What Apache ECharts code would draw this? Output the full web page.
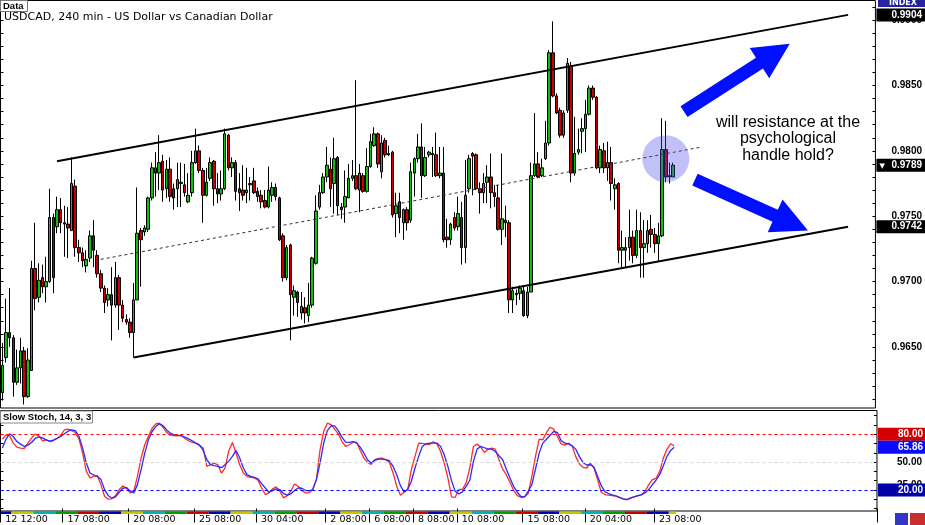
<!DOCTYPE html>
<html><head><meta charset="utf-8">
<script src="https://cdn.jsdelivr.net/npm/echarts@6/dist/echarts.min.js"></script>
<style>html,body{margin:0;padding:0;background:#fff}#c{width:925px;height:525px}</style>
</head><body><div id="c"></div>
<script>
// ---- data ----
const tickIndex = [0,17,35,53,70,89,101,113,125,143,160,179];
const tickLabels = ['12 12:00','17 08:00','20 08:00','25 08:00','30 04:00','2 08:00','6 08:00','8 08:00','10 08:00','15 08:00','20 04:00','23 08:00'];
const priceLabels = [0.965,0.970,0.975,0.980,0.985,0.990];
const stochLabels = [25,50,75];
// first bar of each trading day and the weekday colour of the period-separator strip
const dayStarts = [0,3,9,15,21,27,33,39,45,51,57,63,69,75,81,87,93,99,105,111,117,123,129,135,141,147,153,159,165,171,177,183];
const dayColors = ['#0000b4','#c8c800','#00b4b4','#00a000','#c80000'];
// [open, close, low, high]
const candles = [
[0.9615,0.9636,0.9609,0.9653],[0.9642,0.9661,0.9638,0.9687],[0.9661,0.9657,0.9650,0.9695],[0.9657,0.9623,0.9612,0.9659],
[0.9623,0.9634,0.9621,0.9648],[0.9634,0.9647,0.9622,0.9657],[0.9647,0.9612,0.9606,0.9650],[0.9612,0.9640,0.9611,0.9649],
[0.9632,0.9710,0.9632,0.9716],[0.9710,0.9687,0.9678,0.9745],[0.9688,0.9701,0.9684,0.9714],[0.9703,0.9696,0.9691,0.9713],
[0.9696,0.9700,0.9684,0.9719],[0.9700,0.9749,0.9699,0.9771],[0.9749,0.9703,0.9691,0.9752],[0.9742,0.9755,0.9737,0.9765],
[0.9755,0.9745,0.9737,0.9764],[0.9745,0.9744,0.9719,0.9758],[0.9744,0.9741,0.9718,0.9757],[0.9739,0.9775,0.9739,0.9795],
[0.9773,0.9726,0.9719,0.9778],[0.9726,0.9722,0.9715,0.9732],[0.9722,0.9716,0.9711,0.9726],[0.9712,0.9717,0.9707,0.9724],
[0.9718,0.9735,0.9715,0.9739],[0.9735,0.9724,0.9711,0.9747],[0.9720,0.9706,0.9703,0.9724],[0.9706,0.9695,0.9692,0.9709],
[0.9695,0.9684,0.9676,0.9697],[0.9686,0.9690,0.9681,0.9695],[0.9690,0.9682,0.9655,0.9711],[0.9682,0.9703,0.9680,0.9715],
[0.9703,0.9682,0.9663,0.9705],[0.9682,0.9672,0.9669,0.9686],[0.9671,0.9669,0.9667,0.9675],[0.9669,0.9661,0.9657,0.9672],
[0.9661,0.9686,0.9642,0.9699],[0.9686,0.9737,0.9686,0.9772],[0.9739,0.9732,0.9696,0.9741],[0.9738,0.9741,0.9735,0.9743],
[0.9740,0.9764,0.9738,0.9765],[0.9764,0.9787,0.9762,0.9791],[0.9787,0.9783,0.9765,0.9799],[0.9783,0.9791,0.9770,0.9812],
[0.9792,0.9770,0.9761,0.9797],[0.9771,0.9786,0.9764,0.9793],[0.9786,0.9765,0.9761,0.9795],[0.9771,0.9764,0.9755,0.9775],
[0.9771,0.9778,0.9757,0.9791],[0.9775,0.9776,0.9757,0.9791],[0.9774,0.9768,0.9765,0.9790],[0.9761,0.9766,0.9760,0.9783],
[0.9768,0.9791,0.9765,0.9800],[0.9791,0.9800,0.9790,0.9817],[0.9800,0.9785,0.9783,0.9804],[0.9785,0.9766,0.9745,0.9787],
[0.9766,0.9776,0.9765,0.9787],[0.9779,0.9791,0.9777,0.9795],[0.9792,0.9771,0.9758,0.9793],[0.9771,0.9767,0.9760,0.9783],
[0.9767,0.9771,0.9762,0.9785],[0.9771,0.9813,0.9770,0.9817],[0.9812,0.9787,0.9785,0.9813],[0.9787,0.9791,0.9780,0.9795],
[0.9791,0.9769,0.9762,0.9793],[0.9771,0.9768,0.9754,0.9783],[0.9770,0.9766,0.9762,0.9789],[0.9768,0.9770,0.9760,0.9787],
[0.9774,0.9775,0.9762,0.9780],[0.9777,0.9768,0.9767,0.9787],[0.9769,0.9765,0.9761,0.9772],[0.9766,0.9761,0.9756,0.9770],
[0.9762,0.9757,0.9756,0.9770],[0.9757,0.9770,0.9756,0.9788],[0.9766,0.9772,0.9761,0.9776],[0.9772,0.9765,0.9762,0.9775],
[0.9764,0.9732,0.9731,0.9765],[0.9735,0.9703,0.9700,0.9737],[0.9703,0.9726,0.9701,0.9728],[0.9728,0.9690,0.9655,0.9729],
[0.9688,0.9693,0.9674,0.9697],[0.9692,0.9684,0.9673,0.9693],[0.9676,0.9681,0.9671,0.9692],[0.9680,0.9676,0.9668,0.9688],
[0.9674,0.9682,0.9669,0.9699],[0.9682,0.9718,0.9680,0.9719],[0.9714,0.9754,0.9713,0.9766],[0.9757,0.9768,0.9755,0.9774],
[0.9768,0.9780,0.9767,0.9783],[0.9780,0.9789,0.9776,0.9803],[0.9786,0.9771,0.9757,0.9795],[0.9775,0.9794,0.9752,0.9810],
[0.9795,0.9758,0.9751,0.9796],[0.9757,0.9755,0.9748,0.9760],[0.9757,0.9765,0.9745,0.9785],[0.9764,0.9779,0.9764,0.9790],
[0.9779,0.9781,0.9777,0.9793],[0.9781,0.9771,0.9770,0.9854],[0.9770,0.9783,0.9753,0.9790],[0.9781,0.9769,0.9768,0.9783],
[0.9769,0.9788,0.9768,0.9802],[0.9788,0.9807,0.9787,0.9813],[0.9804,0.9813,0.9803,0.9818],[0.9813,0.9790,0.9787,0.9814],
[0.9784,0.9806,0.9779,0.9812],[0.9808,0.9797,0.9795,0.9810],[0.9797,0.9798,0.9796,0.9804],[0.9799,0.9751,0.9749,0.9800],
[0.9752,0.9758,0.9734,0.9768],[0.9761,0.9749,0.9737,0.9768],[0.9745,0.9755,0.9732,0.9756],[0.9755,0.9745,0.9739,0.9757],
[0.9747,0.9784,0.9745,0.9791],[0.9783,0.9794,0.9765,0.9795],[0.9794,0.9803,0.9791,0.9813],[0.9803,0.9781,0.9764,0.9821],
[0.9781,0.9795,0.9780,0.9803],[0.9797,0.9799,0.9795,0.9800],[0.9798,0.9797,0.9780,0.9803],[0.9797,0.9781,0.9780,0.9814],
[0.9781,0.9783,0.9779,0.9803],[0.9783,0.9732,0.9730,0.9803],[0.9734,0.9732,0.9726,0.9748],[0.9732,0.9744,0.9728,0.9745],
[0.9749,0.9741,0.9739,0.9753],[0.9742,0.9752,0.9739,0.9765],[0.9749,0.9726,0.9713,0.9761],[0.9726,0.9766,0.9714,0.9793],
[0.9771,0.9794,0.9768,0.9797],[0.9798,0.9796,0.9766,0.9799],[0.9797,0.9771,0.9770,0.9798],[0.9771,0.9768,0.9752,0.9776],
[0.9768,0.9775,0.9760,0.9783],[0.9776,0.9780,0.9760,0.9789],[0.9780,0.9768,0.9756,0.9798],[0.9768,0.9765,0.9757,0.9774],
[0.9764,0.9740,0.9739,0.9774],[0.9740,0.9748,0.9728,0.9798],[0.9747,0.9745,0.9734,0.9758],[0.9745,0.9686,0.9676,0.9747],
[0.9686,0.9693,0.9676,0.9696],[0.9690,0.9691,0.9682,0.9694],[0.9691,0.9695,0.9686,0.9697],[0.9693,0.9674,0.9673,0.9696],
[0.9674,0.9692,0.9672,0.9696],[0.9692,0.9781,0.9692,0.9791],[0.9781,0.9790,0.9780,0.9829],[0.9790,0.9780,0.9779,0.9799],
[0.9781,0.9787,0.9780,0.9794],[0.9794,0.9806,0.9793,0.9823],[0.9806,0.9875,0.9804,0.9877],[0.9875,0.9842,0.9841,0.9899],
[0.9842,0.9829,0.9828,0.9844],[0.9831,0.9812,0.9810,0.9833],[0.9812,0.9829,0.9810,0.9831],[0.9831,0.9867,0.9829,0.9871],
[0.9865,0.9783,0.9776,0.9868],[0.9783,0.9798,0.9781,0.9826],[0.9799,0.9801,0.9797,0.9817],[0.9815,0.9817,0.9798,0.9825],
[0.9817,0.9828,0.9799,0.9839],[0.9828,0.9848,0.9827,0.9850],[0.9848,0.9841,0.9839,0.9850],[0.9841,0.9787,0.9786,0.9842],
[0.9787,0.9801,0.9783,0.9804],[0.9800,0.9787,0.9783,0.9806],[0.9787,0.9791,0.9777,0.9807],[0.9791,0.9775,0.9762,0.9803],
[0.9771,0.9774,0.9755,0.9779],[0.9775,0.9724,0.9714,0.9776],[0.9724,0.9726,0.9711,0.9739],[0.9724,0.9726,0.9711,0.9734],
[0.9726,0.9734,0.9716,0.9755],[0.9734,0.9720,0.9714,0.9739],[0.9720,0.9739,0.9718,0.9755],[0.9739,0.9726,0.9703,0.9753],
[0.9726,0.9729,0.9703,0.9747],[0.9729,0.9739,0.9722,0.9747],[0.9740,0.9736,0.9726,0.9751],[0.9736,0.9729,0.9722,0.9741],
[0.9729,0.9735,0.9715,0.9745],[0.9735,0.9801,0.9734,0.9825],[0.9801,0.9780,0.9776,0.9823],[0.9781,0.9780,0.9775,0.9791],
[0.9780,0.9789,0.9780,0.9791]
];
const stochMain = [
74.6,79.3,78.2,70.4,66.1,65.0,64.6,70.4,75.7,80.0,
78.2,72.9,73.9,72.1,73.2,75.7,78.6,84.6,85.4,83.9,
81.8,74.6,59.6,40.0,32.9,34.6,35.4,25.7,13.2,10.0,
10.4,13.9,20.4,24.3,21.8,16.8,18.6,34.6,54.3,68.6,
77.5,86.4,91.1,91.8,87.5,81.8,78.9,78.6,78.2,78.9,
75.4,72.9,71.1,70.4,67.5,65.0,45.4,47.1,48.9,47.1,
38.2,43.6,62.0,71.1,59.6,47.1,38.2,34.6,33.6,32.9,
30.4,22.1,15.0,16.8,21.1,23.2,18.6,11.4,13.9,18.6,
26.4,23.9,19.3,16.8,16.8,20.4,31.1,63.2,82.9,91.8,
90.4,85.4,80.4,72.1,66.8,68.6,71.1,71.4,62.5,54.3,
49.6,47.5,52.5,53.9,54.3,52.5,49.6,38.2,23.9,14.3,
17.5,20.4,41.8,56.1,70.4,70.0,69.3,68.9,71.8,69.6,
61.4,48.9,32.9,12.5,12.0,20.4,20.7,27.5,43.6,66.8,
69.3,66.1,60.4,63.9,65.0,63.9,52.5,42.5,36.4,28.2,
19.6,13.9,12.1,12.5,16.1,34.6,56.1,74.6,73.9,81.8,
87.5,85.4,77.5,69.6,68.2,70.4,67.5,56.1,48.2,44.3,
43.6,48.9,43.6,31.1,17.5,15.0,14.3,13.9,13.2,11.8,
10.4,9.6,11.4,12.5,13.6,14.6,18.6,25.7,31.1,32.5,
40.0,54.3,63.9,69.6,67.5
];
const stochSignal = [
65.0,74.6,80.4,77.5,72.1,69.3,66.8,68.2,71.1,75.4,
77.1,76.1,73.9,72.5,73.6,75.4,77.5,80.4,83.2,84.6,
83.9,77.5,65.0,48.9,38.2,36.1,34.6,31.1,20.4,13.9,
11.1,12.5,17.5,21.8,22.5,18.9,16.8,25.7,41.8,59.6,
73.9,82.9,88.2,91.1,89.3,84.6,81.1,79.3,78.9,78.2,
76.8,75.0,72.9,70.4,68.6,62.5,52.5,47.1,46.1,45.4,
43.9,47.1,51.0,56.1,62.5,54.3,43.6,36.4,34.6,33.6,
31.8,26.8,22.1,17.5,19.3,21.1,20.4,16.1,14.3,15.7,
19.3,22.1,21.8,19.6,18.9,20.4,31.1,48.9,70.4,83.9,
88.9,88.9,83.9,76.8,71.4,71.1,72.1,70.4,66.1,59.6,
52.5,48.9,51.8,53.2,53.2,52.5,51.4,45.4,36.4,24.6,
17.9,20.4,29.3,43.6,56.1,66.8,69.6,70.4,70.4,70.4,
66.8,57.9,45.4,30.0,18.6,15.7,17.9,23.9,30.4,50.7,
63.9,66.8,65.4,63.9,63.9,61.4,56.8,52.5,42.5,32.9,
23.9,17.5,12.9,12.5,18.6,25.7,42.5,59.6,70.4,74.6,
78.9,82.9,81.8,73.2,70.4,69.6,67.5,63.9,56.1,49.6,
46.8,47.1,44.6,34.6,24.6,18.2,16.1,14.6,13.6,12.1,
10.4,9.6,11.1,12.5,13.9,15.0,16.8,20.4,25.7,30.4,
36.4,46.1,56.1,62.5,65.86
];
const channelUpper = [[15,0.9792],[232,0.9904]];
const channelLower = [[36,0.9642],[232,0.9742]];
const channelMid = [[27,0.9717],[192,0.9803]];
const arrows = [[187,0.9830,216,0.9882],[190,0.9778,221,0.9739]];
const circleAt = [[182,0.9794]];
const lastPrice = 0.9789;
const stochLast = 65.86;
const stochLevels = [80,50,20];

// ---- chart ----
const N = 240;
const cats = Array.from({length:N}, (_, i) => String(i));
const FONT = 'DejaVu Sans';
const AX = 'Liberation Sans';
const priceTicks = []; for (let k = 961; k <= 991; k++) priceTicks.push(k / 1000);
const stochTicks = []; for (let k = 0; k <= 100; k += 10) stochTicks.push(k);
const PMIN = 0.96033, PMAX = 0.9915, SMIN = -2.7, SMAX = 105.5;
const HIDE = {color:'rgba(0,0,0,0)', width:0};

function box(text, bg, padLeft) {
  return {show:true, position:'end', distance:1, formatter:text, color:'#fff', backgroundColor:bg,
    padding:[2,4,1,padLeft], fontFamily:AX, fontWeight:'bold', fontSize:10, lineHeight:10};
}
const isTick = (i) => tickIndex.includes(i);
const nBars = candles.length;
const strip = dayStarts.map((s, k) => [s, (k + 1 < dayStarts.length ? dayStarts[k + 1] : nBars) - 1, k % dayColors.length]);

const chart = echarts.init(document.getElementById('c'));
chart.setOption({
  animation:false,
  backgroundColor:'#fff',
  grid:[
    {left:0.5, top:0.5, width:876.5, height:407.5, show:true, borderColor:'#000', borderWidth:1},
    {left:0.5, top:410.5, width:876.5, height:101, show:true, borderColor:'#000', borderWidth:1}
  ],
  xAxis:[
    {type:'category', gridIndex:0, data:cats, axisLine:{show:false}, axisTick:{show:false}, axisLabel:{show:false}, splitLine:{show:false}},
    {type:'category', gridIndex:1, data:cats, axisLine:{show:false},
     axisTick:{show:true, interval:(i)=>isTick(i), length:14, lineStyle:{color:'#000'}},
     axisLabel:{show:true, interval:(i)=>isTick(i), formatter:(v,i)=>{const k=tickIndex.indexOf(i);return k>=0?tickLabels[k]:'';},
       align:'left', margin:4, padding:[0,0,0,3], fontFamily:FONT, fontSize:9.5, color:'#000'}, splitLine:{show:false}}
  ],
  yAxis:[
    {type:'value', gridIndex:0, position:'right', min:PMIN, max:PMAX, axisLine:{show:false}, splitLine:{show:false},
     axisTick:{show:true, inside:true, length:3, customValues:priceTicks, lineStyle:{color:'#000'}},
     axisLabel:{show:true, customValues:priceLabels, formatter:(v)=>v.toFixed(4), margin:16, fontFamily:AX, fontWeight:'bold', fontSize:10, color:'#000'}},
    {type:'value', gridIndex:0, position:'left', min:PMIN, max:PMAX, axisLine:{show:false}, splitLine:{show:false},
     axisTick:{show:true, inside:true, length:3, customValues:priceTicks, lineStyle:{color:'#000'}}, axisLabel:{show:false}},
    {type:'value', gridIndex:1, position:'right', min:SMIN, max:SMAX, axisLine:{show:false}, splitLine:{show:false},
     axisTick:{show:true, inside:true, length:3, customValues:stochTicks, lineStyle:{color:'#000'}},
     axisLabel:{show:true, customValues:stochLabels, formatter:(v)=>v.toFixed(2), margin:20, fontFamily:AX, fontWeight:'bold', fontSize:10, color:'#000'}},
    {type:'value', gridIndex:1, position:'left', min:SMIN, max:SMAX, axisLine:{show:false}, splitLine:{show:false},
     axisTick:{show:true, inside:true, length:3, customValues:stochTicks, lineStyle:{color:'#000'}}, axisLabel:{show:false}}
  ],
  series:[
    {type:'candlestick', xAxisIndex:0, yAxisIndex:0, data:candles, barWidth:3, z:3,
     itemStyle:{color:'#10c010', color0:'#c80000', borderColor:'#000', borderColor0:'#000', borderWidth:1},
     markLine:{silent:true, symbol:['none','none'], animation:false, z:4, precision:4,
       data:[
         [{coord:channelUpper[0], lineStyle:{color:'#000', width:2, type:'solid'}, label:{show:false}}, {coord:channelUpper[1]}],
         [{coord:channelLower[0], lineStyle:{color:'#000', width:2, type:'solid'}, label:{show:false}}, {coord:channelLower[1]}],
         [{coord:channelMid[0], lineStyle:{color:'#333', width:1, type:[3,3]}, label:{show:false}}, {coord:channelMid[1]}],
         {yAxis:channelUpper[1][1], lineStyle:HIDE, label:box(channelUpper[1][1].toFixed(4), '#000', 15)},
         {yAxis:channelLower[1][1], lineStyle:HIDE, label:box(channelLower[1][1].toFixed(4), '#000', 15)},
         {yAxis:lastPrice, lineStyle:HIDE, label:{show:true, position:'end', distance:1, backgroundColor:'#000', padding:[2,4,1,3],
            formatter:'{t|▼}{v|'+lastPrice.toFixed(4)+'}', rich:{t:{color:'#fff', fontSize:7, width:12, fontFamily:FONT}, v:{color:'#fff', fontFamily:AX, fontWeight:'bold', fontSize:10}}}}
       ]}
    },
    {type:'custom', xAxisIndex:0, yAxisIndex:0, data:arrows, z:6, encode:{x:[0,2], y:[1,3]},
     renderItem:function(params, api){
       const p1 = api.coord([api.value(0), api.value(1)]);
       const p2 = api.coord([api.value(2), api.value(3)]);
       const dx = p2[0]-p1[0], dy = p2[1]-p1[1];
       const len = Math.hypot(dx, dy);
       const ux = dx/len, uy = dy/len, px = -uy, py = ux;
       const sw = 6.5, hw = 18, hl = 36;
       const bx = p2[0]-ux*hl, by = p2[1]-uy*hl;
       return {type:'polygon', shape:{points:[
         [p1[0]+px*sw, p1[1]+py*sw],[bx+px*sw, by+py*sw],[bx+px*hw, by+py*hw],[p2[0], p2[1]],
         [bx-px*hw, by-py*hw],[bx-px*sw, by-py*sw],[p1[0]-px*sw, p1[1]-py*sw]]},
         style:{fill:'#0010ff'}};
     }},
    {type:'scatter', xAxisIndex:0, yAxisIndex:0, data:circleAt, symbol:'circle', symbolSize:47, z:7, silent:true,
     itemStyle:{color:'rgba(70,70,230,0.42)'}},
    {type:'line', xAxisIndex:1, yAxisIndex:2, data:stochMain, symbol:'none', z:4,
     lineStyle:{color:'#ff2a2a', width:1.3},
     markLine:{silent:true, symbol:['none','none'], animation:false, precision:2,
       data:[
         {yAxis:stochLevels[0], lineStyle:{color:'#ff0000', width:1, type:[3,3]}, label:box(stochLevels[0].toFixed(2), '#d40000', 20)},
         {yAxis:stochLevels[1], lineStyle:{color:'#d8d8d8', width:1, type:[3,3]}, label:{show:false}},
         {yAxis:stochLevels[2], lineStyle:{color:'#0000ff', width:1, type:[3,3]}, label:box(stochLevels[2].toFixed(2), '#0000a8', 20)},
         {yAxis:stochLast, lineStyle:HIDE, label:box(stochLast.toFixed(2), '#0a0aff', 20)}
       ]}},
    {type:'line', xAxisIndex:1, yAxisIndex:2, data:stochSignal, symbol:'none', z:4,
     lineStyle:{color:'#2a2aff', width:1.3}},
    {type:'custom', xAxisIndex:1, yAxisIndex:2, data:strip, z:8, silent:true, clip:false, encode:{x:[0,1]},
     renderItem:function(params, api){
       const w = api.size([1, 0])[0];
       const a = api.coord([api.value(0), SMIN]);
       const b = api.coord([api.value(1), SMIN]);
       return {type:'rect', shape:{x:a[0]-w/2, y:a[1]+0.5, width:b[0]-a[0]+w, height:2.5},
         style:{fill:dayColors[api.value(2)]}};
     }}
  ],
  graphic:[
    {type:'rect', shape:{x:0.5, y:0.5, width:27, height:11}, style:{fill:'#fff', stroke:'#777'}, z:20},
    {type:'text', x:3, y:6, style:{text:'Data', font:'bold 9.5px "Liberation Sans"', fill:'#000', verticalAlign:'middle'}, z:21},
    {type:'text', x:4, y:17, style:{text:'USDCAD, 240 min - US Dollar vs Canadian Dollar', font:'11px "DejaVu Sans"', fill:'#000', verticalAlign:'middle'}, z:21},
    {type:'rect', shape:{x:0.5, y:411, width:92, height:12}, style:{fill:'#fff', stroke:'#888'}, z:20},
    {type:'text', x:3, y:417.5, style:{text:'Slow Stoch, 14, 3, 3', font:'bold 9.5px "Liberation Sans"', fill:'#000', verticalAlign:'middle'}, z:21},
    {type:'rect', shape:{x:878, y:0, width:47, height:7}, style:{fill:'#2424a0'}, z:20},
    {type:'text', x:903, y:2.5, style:{text:'INDEX', font:'bold 8px "DejaVu Sans"', fill:'#fff', align:'center', verticalAlign:'middle'}, z:21},
    {type:'text', x:788, y:139, style:{text:'will resistance at the\npsychological\nhandle hold?', font:'16px "Liberation Sans"', lineHeight:16.5, fill:'#000', align:'center', verticalAlign:'middle'}, z:21},
    {type:'rect', shape:{x:895, y:513, width:13, height:12}, style:{fill:'#3434c8'}, z:20},
    {type:'rect', shape:{x:910, y:513, width:15, height:12}, style:{fill:'#c83030'}, z:20}
  ]
});
</script></body></html>
